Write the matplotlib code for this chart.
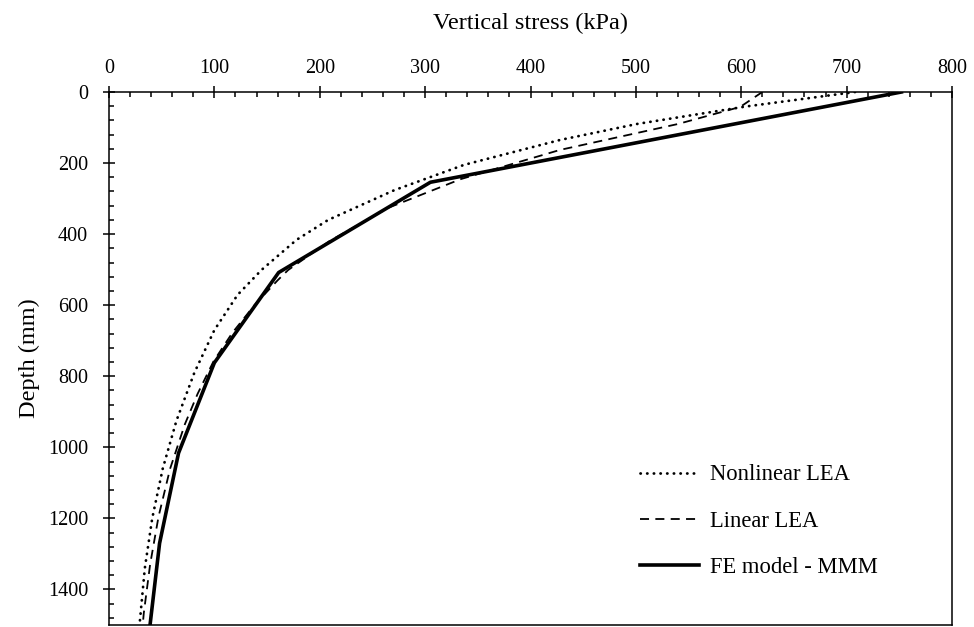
import matplotlib
matplotlib.use("Agg")
import matplotlib.pyplot as plt
from matplotlib.ticker import MultipleLocator

plt.rcParams['font.family'] = ['Liberation Serif', 'DejaVu Serif']

# Nonlinear LEA (dotted)
nl_stress = [708, 604, 501, 428, 337, 271, 208, 178, 145, 122, 100, 81, 64, 51, 41, 34, 29.4, 29]
nl_depth  = [0,   41,  90,  135, 205, 276, 360, 416, 500, 571, 670, 790, 925, 1060, 1200, 1340, 1486, 1500]

# Linear LEA (dashed)
l_stress = [620, 599, 540, 428, 334, 265, 209, 170, 160, 138, 117, 99, 84, 72, 58, 47, 39, 33, 32]
l_depth  = [0,   42,  90,  163, 245, 326, 420, 501, 530, 600, 678, 759, 850, 935, 1060, 1195, 1330, 1467, 1500]

# FE model - MMM (solid)
fe_stress = [752, 305, 161, 100, 66, 48, 38]
fe_depth  = [0, 254, 508, 762, 1016, 1270, 1524]

fig = plt.figure(figsize=(9.74, 6.27), dpi=100)
ax = fig.add_axes([109/974, 1-625/627, (952-109)/974, (625-92)/627])

ax.plot(nl_stress, nl_depth, color='black', lw=2.0, linestyle=(0, (0.1, 2.3)),
        dash_capstyle='round', label='Nonlinear LEA')
ax.plot(l_stress, l_depth, color='black', lw=1.3, linestyle=(0, (5, 3.5)), label='Linear LEA')
ax.plot(fe_stress, fe_depth, color='black', lw=2.6, label='FE model - MMM')

ax.set_xlim(0, 800)
ax.set_ylim(1500, 0)
ax.xaxis.set_major_locator(MultipleLocator(100))
ax.xaxis.set_minor_locator(MultipleLocator(20))
ax.yaxis.set_major_locator(MultipleLocator(200))
ax.yaxis.set_minor_locator(MultipleLocator(40))
ax.xaxis.tick_top()
ax.xaxis.set_label_position('top')
ax.tick_params(axis='both', which='major', direction='inout', length=9, width=1.1,
               labelsize=14.5, colors='black')
ax.tick_params(axis='both', which='minor', direction='in', length=3.5, width=1.1)
ax.tick_params(axis='x', which='major', pad=5.5)
ax.tick_params(axis='y', which='major', pad=10.5)
for s in ax.spines.values():
    s.set_linewidth(1.1)

ax.set_xlabel('Vertical stress (kPa)', fontsize=17.5, labelpad=22)
ax.set_ylabel('Depth (mm)', fontsize=17.5, labelpad=6)

leg = ax.legend(loc='upper left', bbox_to_anchor=(522/843, 1-(455.4-92)/533), frameon=False,
                fontsize=16.3, handlelength=2.62, labelspacing=1.12, handletextpad=0.48,
                borderaxespad=0)

fig.savefig('out.png', dpi=100)
